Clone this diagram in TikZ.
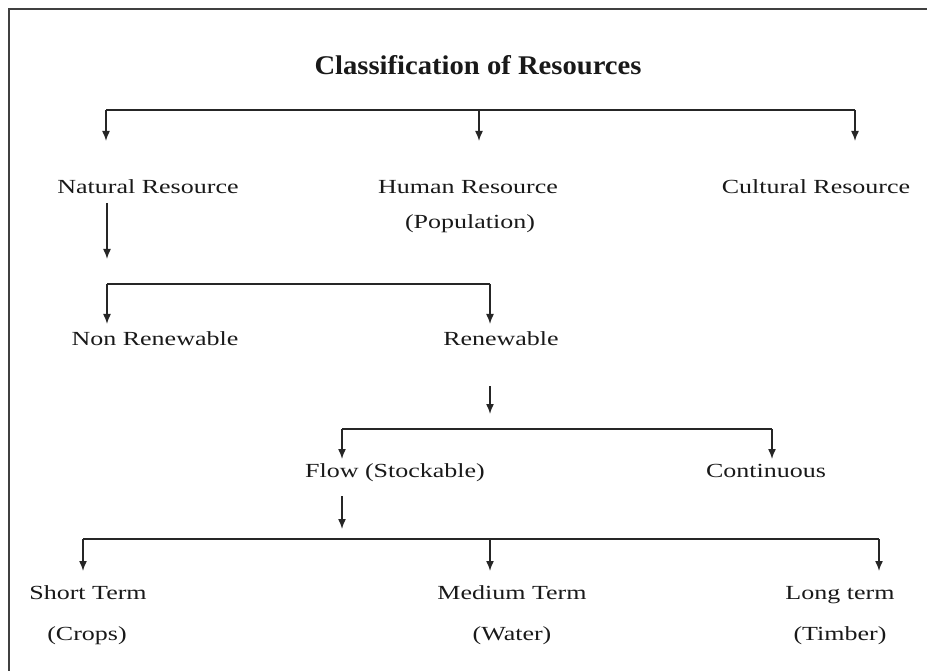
\documentclass[tikz,border=0pt]{standalone}
\usepackage{fontspec}
\setmainfont{Liberation Serif}[FakeStretch=1.3]
\newfontfamily\headfont{Liberation Serif}[FakeStretch=1.06]
\usetikzlibrary{arrows.meta}

\begin{document}
\begin{tikzpicture}[
  x=1pt, y=-1pt,
  font=\fontsize{20}{24}\selectfont,
  >={Latex[length=10pt,width=8pt]},
  lbl/.style={anchor=base, inner sep=0pt, text=black!90},
  head/.style={lbl, font=\headfont\bfseries\fontsize{27}{32}\selectfont},
  bar/.style={line width=1.5pt, draw=black!85},
  flow/.style={->, line width=1.5pt, draw=black!85},
  frame/.style={line width=2pt, draw=black!75}
]
  \useasboundingbox (0,0) rectangle (927,671);
  \draw[frame] (9,671) -- (9,9) -- (927,9);

  % title and first split
  \node[head] (title) at (478,75) {Classification of Resources};
  \coordinate (s1l) at (106,110);
  \coordinate (s1m) at (479,110);
  \coordinate (s1r) at (855,110);
  \coordinate (e1l) at (106,141);
  \coordinate (e1m) at (479,141);
  \coordinate (e1r) at (855,141);
  \draw[bar] (s1l) -- (s1r);
  \foreach \p in {l,m,r} \draw[flow] (s1\p) -- (e1\p);

  \node[lbl] (natural) at (148,194) {Natural Resource};
  \node[lbl] (human) at (468,194) {Human Resource};
  \node[lbl] (pop) at (470,229) {(Population)};
  \node[lbl] (cultural) at (816,194) {Cultural Resource};

  % natural resource split
  \coordinate (n1) at (107,203);
  \coordinate (n2) at (107,259);
  \draw[flow] (n1) -- (n2);
  \coordinate (s2l) at (107,284);
  \coordinate (s2r) at (490,284);
  \coordinate (e2l) at (107,324);
  \coordinate (e2r) at (490,324);
  \draw[bar] (s2l) -- (s2r);
  \foreach \p in {l,r} \draw[flow] (s2\p) -- (e2\p);

  \node[lbl] (nonren) at (155,345) {Non Renewable};
  \node[lbl] (ren) at (501,345) {Renewable};

  % renewable split
  \coordinate (r1) at (490,386);
  \coordinate (r2) at (490,414);
  \draw[flow] (r1) -- (r2);
  \coordinate (s3l) at (342,429);
  \coordinate (s3r) at (772,429);
  \coordinate (e3l) at (342,459);
  \coordinate (e3r) at (772,459);
  \draw[bar] (s3l) -- (s3r);
  \foreach \p in {l,r} \draw[flow] (s3\p) -- (e3\p);

  \node[lbl] (flowres) at (395,477) {Flow (Stockable)};
  \node[lbl] (cont) at (766,477) {Continuous};

  % flow split
  \coordinate (f1) at (342,496);
  \coordinate (f2) at (342,529);
  \draw[flow] (f1) -- (f2);
  \coordinate (s4l) at (83,539);
  \coordinate (s4m) at (490,539);
  \coordinate (s4r) at (879,539);
  \coordinate (e4l) at (83,571);
  \coordinate (e4m) at (490,571);
  \coordinate (e4r) at (879,571);
  \draw[bar] (s4l) -- (s4r);
  \foreach \p in {l,m,r} \draw[flow] (s4\p) -- (e4\p);

  \node[lbl] (short) at (88,599) {Short Term};
  \node[lbl] (crops) at (87,640) {(Crops)};
  \node[lbl] (medium) at (512,599) {Medium Term};
  \node[lbl] (water) at (512,640) {(Water)};
  \node[lbl] (long) at (840,599) {Long term};
  \node[lbl] (timber) at (840,640) {(Timber)};
\end{tikzpicture}
\end{document}
